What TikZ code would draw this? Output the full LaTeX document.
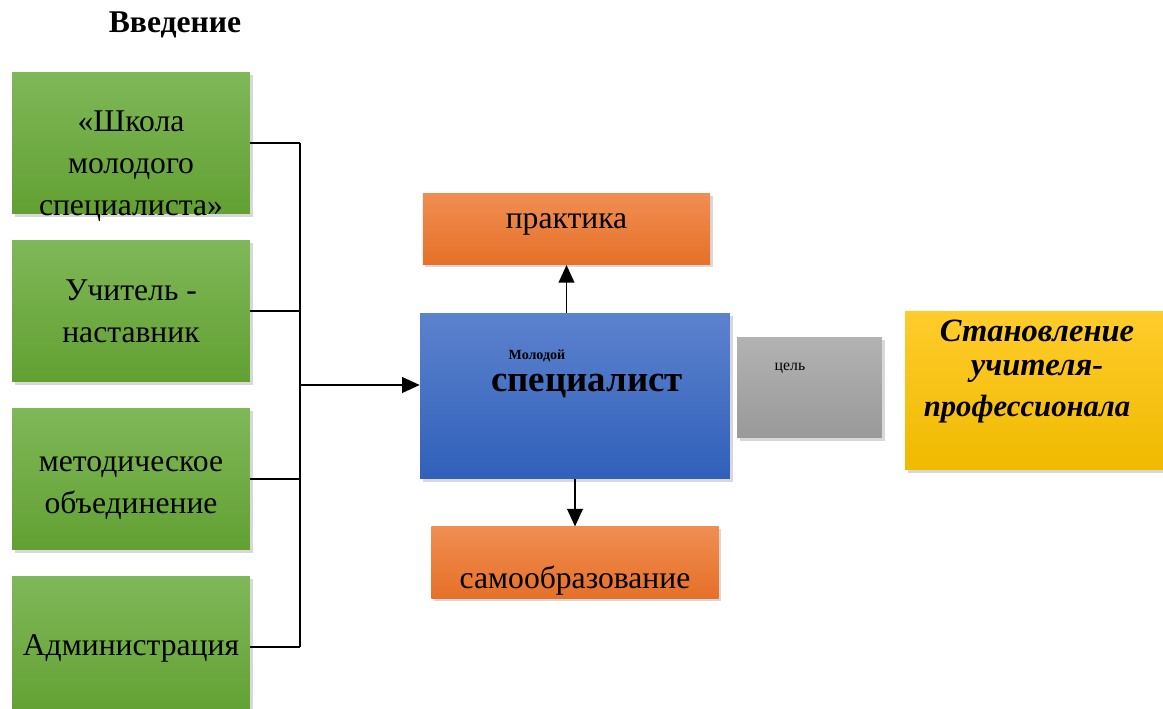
\documentclass[tikz,border=0pt]{standalone}
\usepackage{fontspec}
\setmainfont{Liberation Serif}
\usepackage{tikz}
\usetikzlibrary{arrows.meta,shadows,positioning}

\definecolor{gtop}{RGB}{127,184,88}
\definecolor{gbot}{RGB}{98,160,50}
\definecolor{otop}{RGB}{240,142,82}
\definecolor{obot}{RGB}{230,112,40}
\definecolor{btop}{RGB}{92,130,205}
\definecolor{bbot}{RGB}{48,96,186}
\definecolor{ytop}{RGB}{255,204,44}
\definecolor{ybot}{RGB}{240,186,0}

\tikzset{
	box/.style={rectangle, inner sep=0pt, drop shadow={shadow xshift=1.5pt, shadow yshift=-1.5pt, opacity=0.3}},
	greenbox/.style={box, top color=gtop, bottom color=gbot, minimum width=4.76cm, minimum height=2.84cm},
	orangebox/.style={box, top color=otop, bottom color=obot, minimum width=5.75cm, minimum height=1.43cm},
	txt/.style={align=center, font=\fontsize{18}{24}\selectfont},
	tip/.style={-{Triangle[length=10pt,width=9pt]}, thick}
}

\begin{document}
\begin{tikzpicture}[x=0.02cm,y=-0.02cm]
		\useasboundingbox[fill=white] (0,0) rectangle (1163,709);
		
		\node [font=\fontsize{18}{22}\selectfont\bfseries] (title) at (175,25) {Введение};
		
		% left column
		\node [greenbox] (g1) at (131,143) {};
		\node [greenbox] (g2) at (131,311) {};
		\node [greenbox] (g3) at (131,479) {};
		\node [greenbox] (g4) at (131,647) {};
		\node [txt] (t1) at (131,166) {«Школа\\молодого\\специалиста»};
		\node [txt] (t2) at (131,311) {Учитель -\\наставник};
		\node [txt] (t3) at (131,488) {методическое\\объединение};
		\node [txt] (t4) at (131,648) {Администрация};
		
		% centre
		\node [box, top color=btop, bottom color=bbot, minimum width=6.2cm, minimum height=3.32cm] (spec) at (575,396) {};
		\node [font=\fontsize{8}{9}\selectfont\bfseries] (mol) at (537,356) {Молодой};
		\node [font=\fontsize{21}{24}\selectfont\bfseries] (sp) at (587,386) {специалист};
		
		\node [orangebox] (prak) at (566.5,229) {};
		\node [txt] (tprak) at (566.5,224) {практика};
		\node [orangebox] (self) at (575,562.5) {};
		\node [txt] (tself) at (575,581) {самообразование};
		
		% goal
		\node [box, top color=black!30, bottom color=black!40, minimum width=2.9cm, minimum height=2.02cm] (goal) at (809.5,387.5) {};
		\node [font=\fontsize{9}{10}\selectfont] (cel) at (790,368) {цель};
		\node [box, top color=ytop, bottom color=ybot, minimum width=5.4cm, minimum height=3.18cm] (prof) at (1040,390.5) {};
		\node [align=center, font=\fontsize{18.5}{19.5}\selectfont\bfseries\itshape] (tprof) at (1037,351) {Становление\\учителя-};
		\node [font=\fontsize{17.5}{20}\selectfont\bfseries\itshape] (tprof2) at (1027,409) {профессионала};
		
		% connectors
		\coordinate (bus) at (300,385);
		\draw [thick] (g1.east) -- (g1.east -| bus);
		\draw [thick] (g2.east) -- (g2.east -| bus);
		\draw [thick] (g3.east) -- (g3.east -| bus);
		\draw [thick] (g4.east) -- (g4.east -| bus);
		\draw [thick] (g1.east -| bus) -- (g4.east -| bus);
		\draw [tip] (bus) -- (spec.west |- bus);
		\draw [tip] (spec.north -| prak.south) -- (prak.south);
		\draw [tip] (spec.south) -- (self.north);
\end{tikzpicture}
\end{document}
